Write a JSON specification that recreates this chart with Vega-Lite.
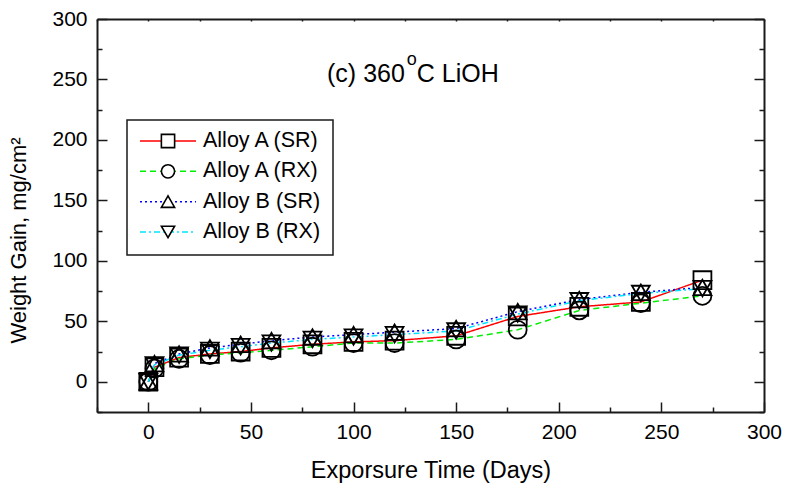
{
  "$schema": "https://vega.github.io/schema/vega-lite/v6.json",
  "width": 667,
  "height": 393,
  "autosize": {"type": "none"},
  "padding": {"left": 97, "top": 19, "right": 21, "bottom": 74},
  "config": {
    "view": {"stroke": null},
    "font": "Liberation Sans",
    "axis": {
      "grid": false,
      "domainColor": "#1a1a1a",
      "domainWidth": 2,
      "tickColor": "#1a1a1a",
      "tickWidth": 1.5,
      "labelFont": "Liberation Sans",
      "labelFontSize": 21,
      "labelColor": "black",
      "titleFont": "Liberation Sans",
      "titleFontSize": 22,
      "titleFontWeight": "normal",
      "titleColor": "black",
      "labelFlush": false,
      "labelOverlap": false,
      "labelBound": false
    },
    "legend": {
      "labelFont": "Liberation Sans",
      "labelFontSize": 21.5,
      "labelColor": "black",
      "strokeWidth": 1.5
    }
  },
  "data": {
    "values": [
      {"series": "Alloy A (SR)", "time": 0, "gain": 0},
      {"series": "Alloy A (SR)", "time": 3, "gain": 12},
      {"series": "Alloy A (SR)", "time": 15, "gain": 20},
      {"series": "Alloy A (SR)", "time": 30, "gain": 23},
      {"series": "Alloy A (SR)", "time": 45, "gain": 25},
      {"series": "Alloy A (SR)", "time": 60, "gain": 28},
      {"series": "Alloy A (SR)", "time": 80, "gain": 31},
      {"series": "Alloy A (SR)", "time": 100, "gain": 33},
      {"series": "Alloy A (SR)", "time": 120, "gain": 34},
      {"series": "Alloy A (SR)", "time": 150, "gain": 38},
      {"series": "Alloy A (SR)", "time": 180, "gain": 54},
      {"series": "Alloy A (SR)", "time": 210, "gain": 62},
      {"series": "Alloy A (SR)", "time": 240, "gain": 66},
      {"series": "Alloy A (SR)", "time": 270, "gain": 84},
      {"series": "Alloy A (RX)", "time": 0, "gain": 0},
      {"series": "Alloy A (RX)", "time": 3, "gain": 11},
      {"series": "Alloy A (RX)", "time": 15, "gain": 19},
      {"series": "Alloy A (RX)", "time": 30, "gain": 22},
      {"series": "Alloy A (RX)", "time": 45, "gain": 24},
      {"series": "Alloy A (RX)", "time": 60, "gain": 26},
      {"series": "Alloy A (RX)", "time": 80, "gain": 29},
      {"series": "Alloy A (RX)", "time": 100, "gain": 32},
      {"series": "Alloy A (RX)", "time": 120, "gain": 32},
      {"series": "Alloy A (RX)", "time": 150, "gain": 35},
      {"series": "Alloy A (RX)", "time": 180, "gain": 43},
      {"series": "Alloy A (RX)", "time": 210, "gain": 59},
      {"series": "Alloy A (RX)", "time": 240, "gain": 65},
      {"series": "Alloy A (RX)", "time": 270, "gain": 71},
      {"series": "Alloy B (SR)", "time": 0, "gain": 0},
      {"series": "Alloy B (SR)", "time": 3, "gain": 15},
      {"series": "Alloy B (SR)", "time": 15, "gain": 23},
      {"series": "Alloy B (SR)", "time": 30, "gain": 28},
      {"series": "Alloy B (SR)", "time": 45, "gain": 31},
      {"series": "Alloy B (SR)", "time": 60, "gain": 34},
      {"series": "Alloy B (SR)", "time": 80, "gain": 37},
      {"series": "Alloy B (SR)", "time": 100, "gain": 39},
      {"series": "Alloy B (SR)", "time": 120, "gain": 41},
      {"series": "Alloy B (SR)", "time": 150, "gain": 44},
      {"series": "Alloy B (SR)", "time": 180, "gain": 58},
      {"series": "Alloy B (SR)", "time": 210, "gain": 68},
      {"series": "Alloy B (SR)", "time": 240, "gain": 74},
      {"series": "Alloy B (SR)", "time": 270, "gain": 78},
      {"series": "Alloy B (RX)", "time": 0, "gain": 0},
      {"series": "Alloy B (RX)", "time": 3, "gain": 14},
      {"series": "Alloy B (RX)", "time": 15, "gain": 22},
      {"series": "Alloy B (RX)", "time": 30, "gain": 26},
      {"series": "Alloy B (RX)", "time": 45, "gain": 29},
      {"series": "Alloy B (RX)", "time": 60, "gain": 32},
      {"series": "Alloy B (RX)", "time": 80, "gain": 35},
      {"series": "Alloy B (RX)", "time": 100, "gain": 37},
      {"series": "Alloy B (RX)", "time": 120, "gain": 39},
      {"series": "Alloy B (RX)", "time": 150, "gain": 42},
      {"series": "Alloy B (RX)", "time": 180, "gain": 56},
      {"series": "Alloy B (RX)", "time": 210, "gain": 67},
      {"series": "Alloy B (RX)", "time": 240, "gain": 73},
      {"series": "Alloy B (RX)", "time": 270, "gain": 77}
    ]
  },
  "layer": [
    {
      "mark": {"type": "line", "strokeWidth": 1.5},
      "encoding": {
        "x": {
          "field": "time", "type": "quantitative",
          "scale": {"domain": [-25, 300], "nice": false, "zero": false},
          "axis": {
            "orient": "bottom",
            "title": "Exporsure Time (Days)",
            "titleFontSize": 23.5,
            "values": [-25, 0, 25, 50, 75, 100, 125, 150, 175, 200, 225, 250, 275, 300],
            "tickSize": -10,
            "tickDash": {"condition": {"test": "datum.value % 50 !== 0", "value": [5, 30]}, "value": []},
            "labelExpr": "datum.value % 50 === 0 && datum.value >= 0 ? datum.label : ''",
            "labelPadding": 19,
            "titleY": 65,
            "titleBaseline": "alphabetic"
          }
        },
        "y": {
          "field": "gain", "type": "quantitative",
          "scale": {"domain": [-25, 300], "nice": false, "zero": false},
          "axis": {
            "orient": "left",
            "title": "Weight Gain, mg/cm²",
            "values": [-25, 0, 25, 50, 75, 100, 125, 150, 175, 200, 225, 250, 275, 300],
            "tickSize": -10,
            "tickDash": {"condition": {"test": "datum.value % 50 !== 0", "value": [5, 30]}, "value": []},
            "labelExpr": "datum.value % 50 === 0 && datum.value >= 0 ? datum.label : ''",
            "labelPadding": 20,
            "titleX": -72,
            "titleY": 221,
            "titleBaseline": "alphabetic"
          }
        },
        "color": {
          "field": "series", "type": "nominal",
          "scale": {
            "domain": ["Alloy A (SR)", "Alloy A (RX)", "Alloy B (SR)", "Alloy B (RX)"],
            "range": ["#ff0000", "#00ee00", "#0000ff", "#00e5ff"]
          },
          "legend": {
            "title": null,
            "orient": "none",
            "legendX": 30,
            "legendY": 101,
            "padding": 12,
            "zindex": 1,
            "strokeColor": "#1a1a1a",
            "fillColor": "white",
            "clipHeight": 18,
            "rowPadding": 8.33,
            "labelOffset": 6,
            "symbolType": "stroke",
            "symbolSize": 3136,
            "symbolStrokeWidth": 1.5
          }
        },
        "strokeDash": {
          "field": "series", "type": "nominal",
          "scale": {
            "domain": ["Alloy A (SR)", "Alloy A (RX)", "Alloy B (SR)", "Alloy B (RX)"],
            "range": [[1, 0], [6, 4], [2, 3], [6, 3, 2, 3]]
          }
        }
      }
    },
    {
      "mark": {"type": "point", "filled": false, "color": "black", "stroke": "black", "strokeWidth": 1.8, "size": 320, "opacity": 1},
      "encoding": {
        "x": {
          "field": "time", "type": "quantitative",
          "axis": {
            "orient": "top",
            "title": null,
            "labels": false,
            "values": [-25, 0, 25, 50, 75, 100, 125, 150, 175, 200, 225, 250, 275, 300],
            "tickSize": -2
          }
        },
        "y": {
          "field": "gain", "type": "quantitative",
          "axis": {
            "orient": "right",
            "title": null,
            "labels": false,
            "values": [-25, 0, 25, 50, 75, 100, 125, 150, 175, 200, 225, 250, 275, 300],
            "tickSize": -10,
            "tickDash": {"condition": {"test": "datum.value % 50 !== 0", "value": [5, 30]}, "value": []}
          }
        },
        "shape": {
          "field": "series", "type": "nominal",
          "scale": {
            "domain": ["Alloy A (SR)", "Alloy A (RX)", "Alloy B (SR)", "Alloy B (RX)"],
            "range": ["square", "circle", "triangle-up", "triangle-down"]
          },
          "legend": null
        }
      }
    },
    {
      "data": {"values": []},
      "mark": {"type": "point", "filled": true, "fill": "white", "stroke": "black", "strokeWidth": 1.6, "opacity": 1},
      "encoding": {
        "shape": {
          "field": "series", "type": "nominal",
          "scale": {
            "domain": ["Alloy A (SR)", "Alloy A (RX)", "Alloy B (SR)", "Alloy B (RX)"],
            "range": ["square", "circle", "triangle-up", "triangle-down"]
          },
          "legend": {
            "title": null,
            "orient": "none",
            "legendX": 48.25,
            "legendY": 101,
            "padding": 12,
            "zindex": 2,
            "clipHeight": 18,
            "rowPadding": 8.33,
            "labelExpr": "''",
            "symbolSize": 175,
            "symbolStrokeWidth": 1.6,
            "symbolOpacity": 1
          }
        }
      }
    },
    {
      "data": {"values": [{}]},
      "mark": {"type": "text", "text": "(c) 360", "align": "right", "baseline": "alphabetic", "fontSize": 25, "font": "Liberation Sans", "color": "black"},
      "encoding": {
        "x": {"datum": 125, "type": "quantitative", "axis": null},
        "y": {"datum": 248, "type": "quantitative", "axis": null}
      }
    },
    {
      "data": {"values": [{}]},
      "mark": {"type": "text", "text": "o", "align": "left", "baseline": "alphabetic", "fontSize": 18, "dx": 2, "dy": -17, "font": "Liberation Sans", "color": "black"},
      "encoding": {
        "x": {"datum": 125, "type": "quantitative", "axis": null},
        "y": {"datum": 248, "type": "quantitative", "axis": null}
      }
    },
    {
      "data": {"values": [{}]},
      "mark": {"type": "text", "text": "C LiOH", "align": "left", "baseline": "alphabetic", "fontSize": 25, "dx": 12, "font": "Liberation Sans", "color": "black"},
      "encoding": {
        "x": {"datum": 125, "type": "quantitative", "axis": null},
        "y": {"datum": 248, "type": "quantitative", "axis": null}
      }
    }
  ],
  "resolve": {
    "axis": {"x": "independent", "y": "independent"},
    "scale": {"shape": "independent"},
    "legend": {"shape": "independent"}
  }
}
